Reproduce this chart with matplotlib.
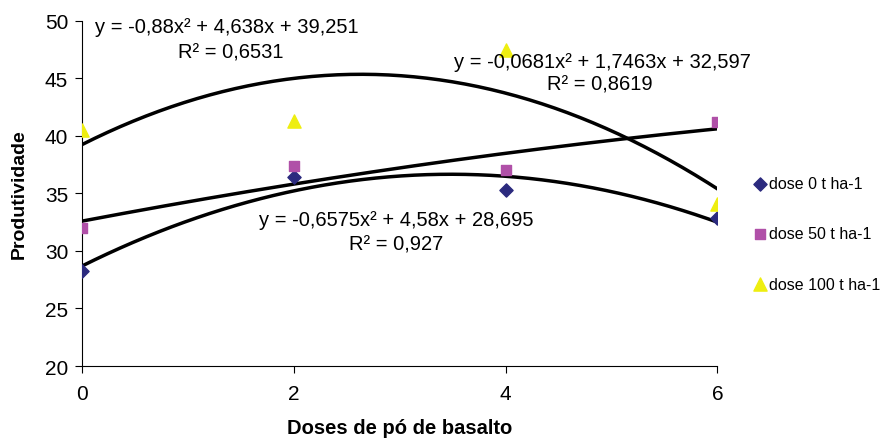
import numpy as np
import matplotlib
matplotlib.use("Agg")
import matplotlib.pyplot as plt

plt.rcParams['font.family'] = ['Liberation Sans', 'DejaVu Sans']

doses = [0, 2, 4, 6]
dose0 = [28.3, 36.4, 35.3, 32.9]
dose50 = [32.0, 37.4, 37.0, 41.2]
dose100 = [40.5, 41.3, 47.5, 34.1]

coef0 = [-0.6575, 4.58, 28.695]
coef50 = [-0.0681, 1.7463, 32.597]
coef100 = [-0.88, 4.638, 39.251]

labels = ["dose 0 t ha-1", "dose 50 t ha-1", "dose 100 t ha-1"]
eq_texts = [
    ("y = -0,6575x² + 4,58x + 28,695", "R² = 0,927"),
    ("y = -0,0681x² + 1,7463x + 32,597", "R² = 0,8619"),
    ("y = -0,88x² + 4,638x + 39,251", "R² = 0,6531"),
]

fig = plt.figure(figsize=(8.85, 4.39), dpi=100)
ax = fig.add_axes([0.0927, 0.164, 0.718, 0.786])

xs = np.linspace(0, 6, 200)
for c in (coef0, coef50, coef100):
    ax.plot(xs, np.polyval(c, xs), color='black', lw=2.5, zorder=2)

h0 = ax.scatter(doses, dose0, marker='D', s=45, color='#2B2A7E', zorder=3, label=labels[0])
h1 = ax.scatter(doses, dose50, marker='s', s=55, color='#B050A8', zorder=3, label=labels[1])
h2 = ax.scatter(doses, dose100, marker='^', s=90, color='#EEEE10', zorder=3, label=labels[2])

ax.set_xlim(0, 6)
ax.set_ylim(20, 50)
ax.set_xticks([0, 2, 4, 6])
ax.set_yticks([20, 25, 30, 35, 40, 45, 50])
ax.spines['top'].set_visible(False)
ax.spines['right'].set_visible(False)
ax.tick_params(direction='out', length=5, labelsize=15, pad=5)
ax.tick_params(axis='x', pad=8)

ax.set_xlabel("Doses de pó de basalto", fontsize=14.5, fontweight='bold', labelpad=11)
ax.set_ylabel("Produtividade", fontsize=14, fontweight='bold', labelpad=12)

fs = 14.5
ax.text(0.12, 49.5, eq_texts[2][0], fontsize=fs, ha='left', va='center')
ax.text(1.40, 47.3, eq_texts[2][1], fontsize=fs, ha='center', va='center')
ax.text(6.32, 46.5, eq_texts[1][0], fontsize=fs, ha='right', va='center')
ax.text(4.89, 44.5, eq_texts[1][1], fontsize=fs, ha='center', va='center')
ax.text(2.97, 32.7, eq_texts[0][0], fontsize=fs, ha='center', va='center')
ax.text(2.97, 30.6, eq_texts[0][1], fontsize=fs, ha='center', va='center')

leg = fig.legend(handles=[h0, h1, h2], loc='center left', bbox_to_anchor=(0.842, 0.465),
                 frameon=False, fontsize=11.5, handletextpad=0.0, labelspacing=2.2,
                 handlelength=1.1, borderaxespad=0)

fig.savefig("out.png", dpi=100)
